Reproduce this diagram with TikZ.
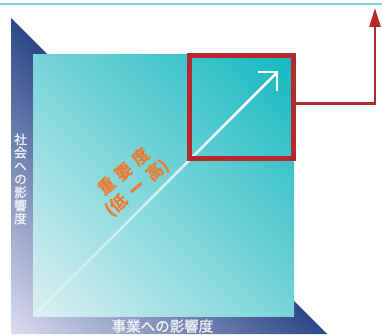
\documentclass[tikz,border=0pt]{standalone}
\usepackage{fontspec}
\setmainfont{Liberation Sans}
\newfontfamily\jp{Noto Sans CJK JP}
\newfontfamily\jpheavy[FakeBold=1.2]{Noto Sans CJK JP}
\usetikzlibrary{arrows.meta,fadings}
\definecolor{topline}{HTML}{7FD2DC}
\definecolor{navy}{HTML}{2C4888}
\definecolor{navymid}{HTML}{6A70AA}
\definecolor{lavender}{HTML}{DCDDF0}
\definecolor{tealdark}{HTML}{12B8C0}
\definecolor{tealmid}{HTML}{90D5D9}
\definecolor{teallight}{HTML}{DDF0F2}
\definecolor{boxred}{HTML}{B7282E}
\definecolor{orangetxt}{HTML}{EE7A30}
\definecolor{labeltxt}{HTML}{EEF0F8}
\tikzfading[name=linefade, left color=transparent!70, right color=transparent!0]
\tikzset{
  axislabel/.style={text=labeltxt, inner sep=0pt},
  redline/.style={boxred, line width=2.6pt},
}
\begin{document}
\begin{tikzpicture}[x=1pt,y=-1pt]
\useasboundingbox (0,0) rectangle (382,334);
% top rule
\draw[topline, line width=2pt] (0,4) -- (382,4);
% navy triangle
\begin{scope}
  \clip (11,18) -- (11,334) -- (327,334) -- cycle;
  \begin{scope}[transform canvas={rotate around={-45:(11,334)}}]
    \shade[bottom color=lavender, middle color=navymid, top color=navy] (-214,334) rectangle (236,110);
  \end{scope}
\end{scope}
% teal square
\begin{scope}
  \clip (33,55) rectangle (294,316);
  \begin{scope}[transform canvas={rotate around={-45:(33,316)}}]
    \shade[bottom color=teallight, middle color=tealmid, top color=tealdark] (-152,316) rectangle (218,-53);
  \end{scope}
\end{scope}
% white diagonal arrow
\coordinate (as) at (37,312);
\coordinate (at) at (277,72);
\draw[white, line width=2.6pt, path fading=linefade, fading angle=45] (as) -- (at);
\draw[white, line width=2.8pt] (at) ++(-19,0) -- (at) -- ++(0,19);
% red box and connector
\node[draw=boxred, line width=4.5pt, minimum width=104pt, minimum height=103pt, inner sep=0pt] (redbox) at (241.5,107) {};
\coordinate (up) at (375,8);
\draw[redline, -{Triangle[width=11pt,length=19pt]}] ([yshift=3.7pt]redbox.east) -| (up);
% labels
\node[axislabel, font=\jpheavy\fontsize{12.8}{13.2}\selectfont, align=center] (ylabel) at (20.5,179) {社\\会\\へ\\の\\影\\響\\度};
\node[axislabel, font=\jpheavy\fontsize{14.5}{16}\selectfont] (xlabel) at (162.5,326) {事業への影響度};
\node[text=orangetxt, font=\jp\bfseries\fontsize{17}{20.5}\selectfont, align=center, rotate=40, inner sep=0pt] (imp) at (131,180.5) {重\hspace{5.5pt}要\hspace{5.5pt}度\\(低\hspace{6.5pt}ー\hspace{6.5pt}高)};
\end{tikzpicture}
\end{document}
